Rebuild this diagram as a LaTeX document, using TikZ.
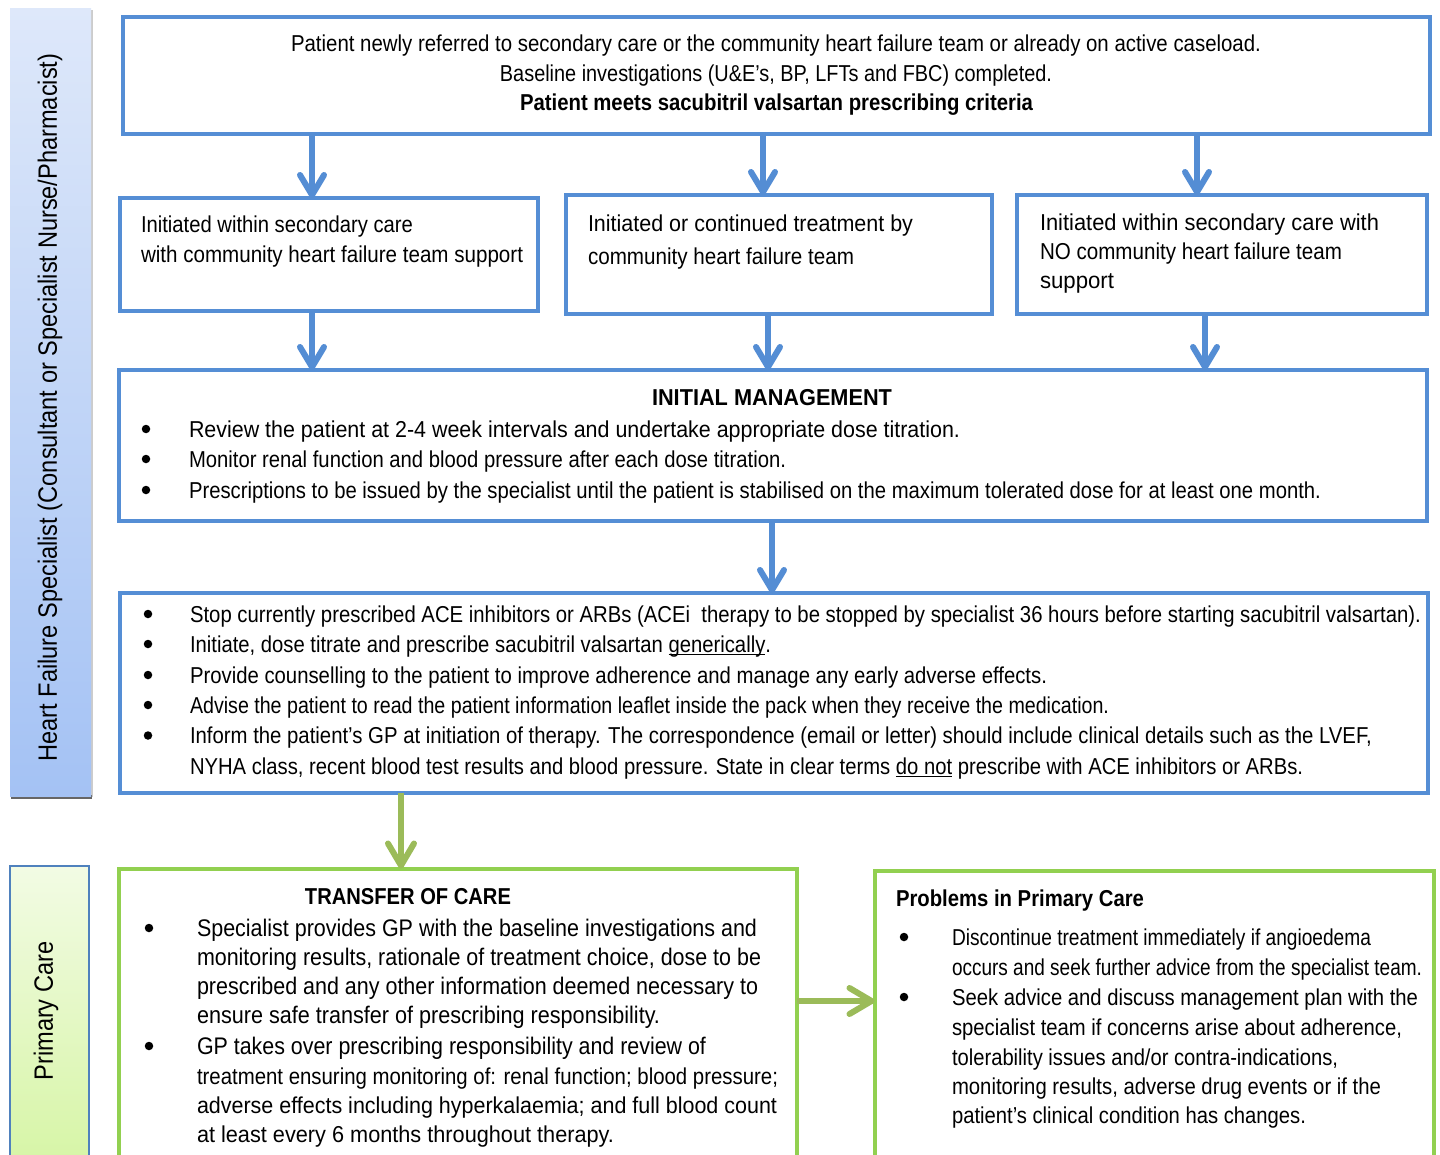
\documentclass[tikz,border=0pt]{standalone}
\usepackage{graphicx}
\usepackage{fontspec}
\setmainfont{Liberation Sans}[FakeStretch=0.89]
\newfontfamily\condfont{Liberation Sans}[FakeStretch=0.83]
\newcommand\undl[1]{\setbox0\hbox{#1}\leavevmode\rlap{\rule[-3.2pt]{\wd0}{1.3pt}}\box0\relax}
\newcommand\fw[2]{\resizebox{#1pt}{\height}{#2}}
\usetikzlibrary{arrows.meta}
\definecolor{boxblue}{RGB}{85,142,213}
\definecolor{arrblue}{RGB}{84,141,212}
\definecolor{boxgreen}{RGB}{146,208,80}
\definecolor{arrgreen}{RGB}{155,187,89}
\definecolor{bartop}{RGB}{222,232,250}
\definecolor{barbot}{RGB}{164,194,244}
\definecolor{gbartop}{RGB}{242,251,228}
\definecolor{gbarbot}{RGB}{214,245,165}
\definecolor{gbarline}{RGB}{79,129,189}
\tikzset{
  txt/.style={anchor=base west, inner sep=0pt, outer sep=0pt, font=\fontsize{23}{28}\selectfont},
  ctxt/.style={txt, anchor=base},
  bigtxt/.style={txt, font=\fontsize{24}{28}\selectfont},
  bul/.style={circle, fill=black, inner sep=0pt, outer sep=0pt, minimum size=8.5pt, yshift=8pt},
  bluebox/.style={rectangle, draw=boxblue, line width=4pt, fill=white, inner sep=0pt, outer sep=0pt},
  greenbox/.style={rectangle, draw=boxgreen, line width=4pt, fill=white, inner sep=0pt, outer sep=0pt},
  barrow/.style={draw=arrblue, line width=6pt, -{Straight Barb[length=20pt,width=24pt,round]}},
  garrow/.style={draw=arrgreen, line width=6pt, -{Straight Barb[length=22pt,width=26pt,round]}},
  sidelbl/.style={rotate=90, inner sep=0pt, font=\fontsize{26.5}{30}\selectfont}
}
\begin{document}
\begin{tikzpicture}[x=1pt,y=-1pt]
\useasboundingbox (0,0) rectangle (1440,1155);
\fill[white] (0,0) rectangle (1440,1155);

% side bars
\fill[black!20] (11.5,10.5) rectangle (93,797);
\fill[black!60] (11,795) rectangle (92,798.5);
\shade[top color=bartop, bottom color=barbot] (10,9) rectangle (91,796);
\node[sidelbl] (lblspec) at (50,407.5) {Heart Failure Specialist (Consultant or Specialist Nurse/Pharmacist)};
\shade[top color=gbartop, bottom color=gbarbot, draw=gbarline, line width=2pt] (10,866) rectangle (89,1170);
\node[sidelbl] (lblprim) at (46,1011) {Primary Care};

% boxes
\node[bluebox, minimum width=1307pt, minimum height=117pt] (top) at (776.5,75.5) {};
\node[bluebox, minimum width=418pt, minimum height=113pt] (b1) at (329,254.5) {};
\node[bluebox, minimum width=426pt, minimum height=119pt] (b2) at (779,254.5) {};
\node[bluebox, minimum width=410pt, minimum height=119pt] (b3) at (1222,254.5) {};
\node[bluebox, minimum width=1308pt, minimum height=151pt] (init) at (773,445.5) {};
\node[bluebox, minimum width=1308pt, minimum height=200pt] (main) at (774,693) {};
\node[greenbox, minimum width=678pt, minimum height=297pt] (tr) at (458,1017) {};
\node[greenbox, minimum width=559pt, minimum height=295pt] (pr) at (1154,1018) {};

% top box text
\node[ctxt] (top1) at (776,52) {\fw{970}{Patient newly referred to secondary care or the community heart failure team or already on active caseload.}};
\node[ctxt] (top2) at (776,82) {\fw{552}{Baseline investigations (U\&E’s, BP, LFTs and FBC) completed.}};
\node[ctxt] (top3) at (776.5,111) {\fw{513}{\bfseries Patient meets sacubitril valsartan prescribing criteria}};

% second row
\node[txt] (b1l1) at (141,233) {\fw{272}{Initiated within secondary care}};
\node[txt] (b1l2) at (141,263) {\fw{382}{with community heart failure team support}};
\node[txt] (b2l1) at (588,232) {\fw{325}{Initiated or continued treatment by}};
\node[txt] (b2l2) at (588,265) {\fw{266}{community heart failure team}};
\node[txt] (b3l1) at (1040,231) {\fw{339}{Initiated within secondary care with}};
\node[txt] (b3l2) at (1040,260) {\fw{302}{NO community heart failure team}};
\node[txt] (b3l3) at (1040,289) {\fw{74}{support}};

% initial management
\node[ctxt] (inith) at (772,405) {\fw{240}{\bfseries INITIAL MANAGEMENT}};
\node[bul] (ib1) at (146,437) {};
\node[txt] (il1) at (189,437) {\fw{771}{Review the patient at 2-4 week intervals and undertake appropriate dose titration.}};
\node[bul] (ib2) at (146,467) {};
\node[txt] (il2) at (189,467) {\fw{597}{Monitor renal function and blood pressure after each dose titration.}};
\node[bul] (ib3) at (146,498) {};
\node[txt] (il3) at (189,498) {\fw{1132}{Prescriptions to be issued by the specialist until the patient is stabilised on the maximum tolerated dose for at least one month.}};

% main specialist box
\node[bul] (mb1) at (148,622) {};
\node[txt] (ml1) at (190,622) {\fw{1231}{Stop currently prescribed ACE inhibitors or ARBs (ACEi\ \ therapy to be stopped by specialist 36 hours before starting sacubitril valsartan).}};
\node[bul] (mb2) at (148,652) {};
\node[txt] (ml2) at (190,652) {\fw{581}{Initiate, dose titrate and prescribe sacubitril valsartan \undl{generically}.}};
\node[bul] (mb3) at (148,683) {};
\node[txt] (ml3) at (190,683) {\fw{857}{Provide counselling to the patient to improve adherence and manage any early adverse effects.}};
\node[bul] (mb4) at (148,713) {};
\node[txt] (ml4) at (190,713) {\fw{919}{Advise the patient to read the patient information leaflet inside the pack when they receive the medication.}};
\node[bul] (mb5) at (148,743.5) {};
\node[txt] (ml5) at (190,743.5) {\fw{1182}{Inform the patient’s GP at initiation of therapy. The correspondence (email or letter) should include clinical details such as the LVEF,}};
\node[txt] (ml6) at (190,774) {\fw{1113}{NYHA class, recent blood test results and blood pressure. State in clear terms \undl{do not} prescribe with ACE inhibitors or ARBs.}};

% transfer of care
\node[ctxt] (trh) at (408,904) {\fw{206}{\bfseries TRANSFER OF CARE}};
\node[bul] (tb1) at (149,936) {};
\node[bigtxt] (tl1) at (197,936) {\fw{560}{Specialist provides GP with the baseline investigations and}};
\node[bigtxt] (tl2) at (197,965) {\fw{564}{monitoring results, rationale of treatment choice, dose to be}};
\node[bigtxt] (tl3) at (197,994) {\fw{561}{prescribed and any other information deemed necessary to}};
\node[bigtxt] (tl4) at (197,1023) {\fw{463}{ensure safe transfer of prescribing responsibility.}};
\node[bul] (tb2) at (149,1054) {};
\node[bigtxt] (tl5) at (197,1054) {\fw{509}{GP takes over prescribing responsibility and review of}};
\node[txt] (tl6) at (197,1084) {\fw{581}{treatment ensuring monitoring of: renal function; blood pressure;}};
\node[txt] (tl7) at (197,1113) {\fw{580}{adverse effects including hyperkalaemia; and full blood count}};
\node[txt] (tl8) at (197,1142) {\fw{417}{at least every 6 months throughout therapy.}};

% problems in primary care
\node[txt] (prh) at (896,906) {\fw{248}{\bfseries Problems in Primary Care}};
\node[bul] (pb1) at (904,945) {};
\node[txt] (pl1) at (952,945) {\fw{419}{Discontinue treatment immediately if angioedema}};
\node[txt] (pl2) at (952,975) {\fw{470}{occurs and seek further advice from the specialist team.}};
\node[bul] (pb2) at (904,1005) {};
\node[txt] (pl3) at (952,1005) {\fw{466}{Seek advice and discuss management plan with the}};
\node[txt] (pl4) at (952,1035) {\fw{450}{specialist team if concerns arise about adherence,}};
\node[txt] (pl5) at (952,1065) {\fw{386}{tolerability issues and/or contra-indications,}};
\node[txt] (pl6) at (952,1094) {\fw{429}{monitoring results, adverse drug events or if the}};
\node[txt] (pl7) at (952,1123) {\fw{354}{patient’s clinical condition has changes.}};

% connectors
\coordinate (xa) at (312,0);
\coordinate (xb) at (763,0);
\coordinate (xc) at (1197,0);
\coordinate (xd) at (312,0);
\coordinate (xe) at (768,0);
\coordinate (xf) at (1205,0);
\coordinate (xg) at (772,0);
\coordinate (xh) at (401,0);
\coordinate (yh) at (0,1001);
\draw[barrow] (top.south -| xa) -- (b1.north -| xa);
\draw[barrow] (top.south -| xb) -- (b2.north -| xb);
\draw[barrow] (top.south -| xc) -- (b3.north -| xc);
\draw[barrow] (b1.south -| xd) -- (init.north -| xd);
\draw[barrow] (b2.south -| xe) -- (init.north -| xe);
\draw[barrow] (b3.south -| xf) -- (init.north -| xf);
\draw[barrow] (init.south -| xg) -- (main.north -| xg);
\draw[garrow] (main.south -| xh) -- (tr.north -| xh);
\draw[garrow] (tr.east |- yh) -- (pr.west |- yh);
\end{tikzpicture}
\end{document}
